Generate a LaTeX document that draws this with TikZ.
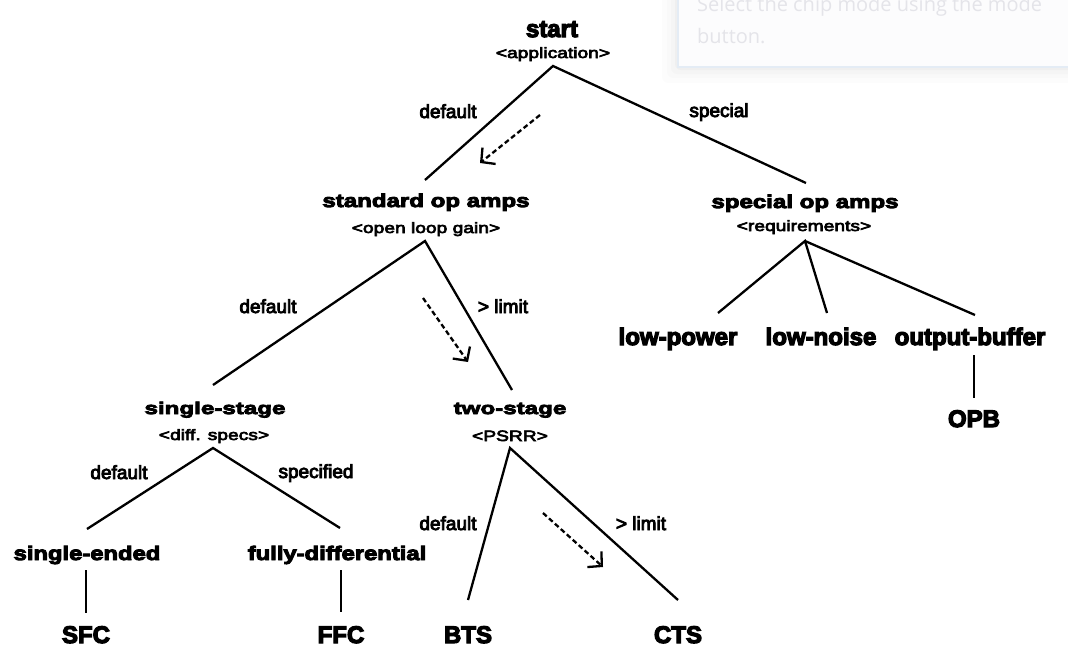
\documentclass[tikz,border=0pt]{standalone}
\usepackage{fontspec}
\setmainfont{Liberation Sans}
\newfontfamily\plainF[FakeBold=5]{Liberation Sans}
\newfontfamily\edgeF[FakeBold=4.5]{Liberation Sans}
\newfontfamily\wideF[FakeStretch=1.3,FakeBold=5]{Liberation Sans}
\newfontfamily\wideS[FakeStretch=1.28,FakeBold=4.5]{Liberation Sans}
\newfontfamily\wideFF[FakeStretch=1.42,FakeBold=5]{Liberation Sans}
\newfontfamily\wideFC[FakeStretch=1.22,FakeBold=5]{Liberation Sans}
\newfontfamily\uiF{Open Sans}
\usetikzlibrary{arrows.meta}
\definecolor{uitext}{RGB}{228,228,233}
\definecolor{uiborder}{RGB}{228,236,245}
\definecolor{uifill}{RGB}{252,252,253}
\begin{document}
\begin{tikzpicture}[x=1pt,y=-1pt,
  lab/.style={anchor=base,inner sep=0pt,text=black},
  topl/.style={lab,font=\plainF\bfseries\fontsize{24}{26}\selectfont},
  midl/.style={lab,font=\wideF\bfseries\fontsize{18.5}{20}\selectfont},
  lowl/.style={lab,font=\wideFF\bfseries\fontsize{17}{19}\selectfont},
  endl/.style={lab,font=\wideFC\bfseries\fontsize{19.5}{21}\selectfont},
  leafl/.style={lab,font=\plainF\bfseries\fontsize{24}{26}\selectfont},
  subl/.style={lab,font=\wideS\fontsize{15}{17}\selectfont},
  edgel/.style={lab,font=\edgeF\fontsize{19}{21}\selectfont},
  branch/.style={line width=2.3pt},
  hint/.style={line width=2.3pt,dash pattern=on 5pt off 3pt,
    -{Straight Barb[length=10pt,width=21pt]}},
]
\useasboundingbox (0,0) rectangle (1068,648);
\fill[white] (0,0) rectangle (1068,648);

% faint UI overlay (top right)
\begin{scope}
\clip (0,0) rectangle (1068,648);
\foreach \i/\o in {16/0.010,11/0.013,7/0.017,3/0.022}
  \fill[black,opacity=\o,rounded corners=6pt] ({678-\i},-30) rectangle (1100,{67+\i});
\filldraw[fill=uifill,draw=uiborder,line width=1.2pt] (678,-30) rectangle (1100,67);
\node[anchor=base west,inner sep=0pt,text=uitext,font=\uiF\fontsize{20}{28}\selectfont] (uiA) at (697,11) {Select the chip mode using the mode};
\node[anchor=base west,inner sep=0pt,text=uitext,font=\uiF\fontsize{20}{28}\selectfont] (uiB) at (697,43) {button.};
\end{scope}

% labels
\node[topl] (start) at (552,37) {start};
\node[subl] (startS) at (553,58) {<application>};
\node[edgel] (eDef1) at (448,118) {default};
\node[edgel] (eSpec) at (719,117) {special};
\node[midl] (std) at (426,207) {standard op amps};
\node[subl] (stdS) at (426,233) {<open loop gain>};
\node[midl] (spec) at (805,208) {special op amps};
\node[subl] (specS) at (804,231) {<requirements>};
\node[edgel] (eDef2) at (268,313) {default};
\node[edgel] (eLim1) at (503,313) {> limit};
\node[leafl] (lp) at (678,345) {low-power};
\node[leafl] (ln) at (821,345) {low-noise};
\node[leafl] (ob) at (970,345) {output-buffer};
\node[leafl] (opb) at (974,427) {OPB};
\node[lowl] (ss) at (215,414) {single-stage};
\node[subl] (ssS) at (214,440) {<diff. specs>};
\node[lowl] (ts) at (510,414) {two-stage};
\node[subl] (tsS) at (510,441) {<PSRR>};
\node[edgel] (eDef3) at (119,479) {default};
\node[edgel] (eSpecd) at (316,478) {specified};
\node[endl] (se) at (87,560) {single-ended};
\node[endl] (fd) at (337,560) {fully-differential};
\node[leafl] (sfc) at (86,643) {SFC};
\node[leafl] (ffc) at (341,643) {FFC};
\node[edgel] (eDef4) at (448,530) {default};
\node[edgel] (eLim2) at (641,530) {> limit};
\node[leafl] (bts) at (468,643) {BTS};
\node[leafl] (cts) at (678,643) {CTS};

% connector end points
\coordinate (start-o) at (553,66);
\coordinate (std-i) at (425,180);
\coordinate (spec-i) at (806,183);
\coordinate (std-o) at (425,241);
\coordinate (ss-i) at (213,385);
\coordinate (ts-i) at (512,390);
\coordinate (spec-o) at (805,241);
\coordinate (lp-i) at (718,313);
\coordinate (ln-i) at (827,313);
\coordinate (ob-i) at (975,315);
\coordinate (ob-o) at (974,355);
\coordinate (opb-i) at (974,398);
\coordinate (ss-o) at (213,448);
\coordinate (se-i) at (87,529);
\coordinate (fd-i) at (340,528);
\coordinate (se-o) at (86,570);
\coordinate (sfc-i) at (86,613);
\coordinate (fd-o) at (341,570);
\coordinate (ffc-i) at (341,612);
\coordinate (ts-o) at (510,448);
\coordinate (bts-i) at (468,600);
\coordinate (cts-i) at (678,600);
\coordinate (h1a) at (540,115);
\coordinate (h1b) at (480,163);
\coordinate (h2a) at (423,298);
\coordinate (h2b) at (468,362);
\coordinate (h3a) at (543,513);
\coordinate (h3b) at (603,567);

% branches
\draw[branch] (std-i) -- (start-o) -- (spec-i);
\draw[branch] (ss-i) -- (std-o) -- (ts-i);
\draw[branch] (lp-i) -- (spec-o) -- (ln-i);
\draw[branch] (spec-o) -- (ob-i);
\draw[branch] (ob-o) -- (opb-i);
\draw[branch] (se-i) -- (ss-o) -- (fd-i);
\draw[branch] (se-o) -- (sfc-i);
\draw[branch] (fd-o) -- (ffc-i);
\draw[branch] (bts-i) -- (ts-o) -- (cts-i);

% hint arrows
\draw[hint] (h1a) -- (h1b);
\draw[hint] (h2a) -- (h2b);
\draw[hint] (h3a) -- (h3b);
\end{tikzpicture}
\end{document}
